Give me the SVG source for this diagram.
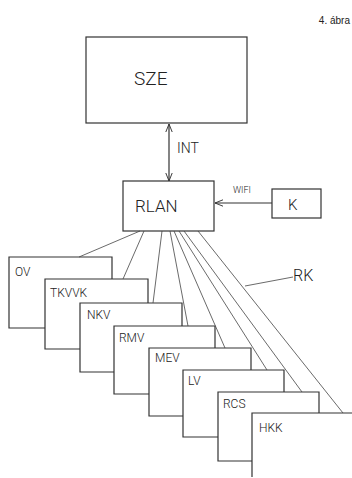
<svg xmlns="http://www.w3.org/2000/svg" width="352" height="478" viewBox="0 0 352 478">
<style>
.b{fill:none;stroke:#333;stroke-width:1.2}
.c{fill:none;stroke:#444;stroke-width:0.8}
.t{font-family:Roboto,"DejaVu Sans",sans-serif;font-weight:300;fill:#222}
</style>
<defs>
<marker id="ah" viewBox="0 0 10 10" refX="10" refY="5" markerWidth="8" markerHeight="8" orient="auto-start-reverse" markerUnits="userSpaceOnUse">
<polyline points="0,1 10,5 0,9" fill="none" stroke="#333" stroke-width="1.2"/>
</marker>
</defs>
<rect width="352" height="478" fill="#fff"/>
<text x="350" y="24" font-size="10" text-anchor="end" font-family="Liberation Sans,Arial,sans-serif" fill="#222">4. ábra</text>
<g id="SZE"><rect class="b" x="86" y="37" width="161" height="86"/><text class="t" x="134" y="85" font-size="19">SZE</text></g>
<g id="RLAN"><rect class="b" x="123" y="181" width="91" height="50"/><text class="t" x="135" y="212" font-size="17">RLAN</text></g>
<g id="K"><rect class="b" x="272" y="189" width="49" height="29"/><text class="t" x="288" y="210" font-size="15">K</text></g>
<g id="OV"><path class="b" d="M45 328H9V257H112V279"/><text class="t" x="15" y="276" font-size="12">OV</text></g>
<g id="TKVVK"><path class="b" d="M80 349H45V279H148V303"/><text class="t" x="50" y="297" font-size="12">TKVVK</text></g>
<g id="NKV"><path class="b" d="M114 372H80V303H182V326"/><text class="t" x="87" y="319" font-size="12">NKV</text></g>
<g id="RMV"><path class="b" d="M149 394H114V326H215V348"/><text class="t" x="119" y="342" font-size="12">RMV</text></g>
<g id="MEV"><path class="b" d="M183 416H149V348H251V370"/><text class="t" x="155" y="362" font-size="12">MEV</text></g>
<g id="LV"><path class="b" d="M218 437H183V370H284V392"/><text class="t" x="188" y="385" font-size="12">LV</text></g>
<g id="RCS"><path class="b" d="M252 461H218V392H319V413"/><text class="t" x="223" y="408" font-size="12">RCS</text></g>
<g id="HKK"><path class="b" d="M252 477V413H352"/><text class="t" x="259" y="432" font-size="12">HKK</text></g>
<g id="connectors">
<line class="b" x1="169" y1="124" x2="169" y2="181" marker-start="url(#ah)" marker-end="url(#ah)"/>
<text class="t" x="177" y="153" font-size="14">INT</text>
<line class="b" x1="272" y1="203" x2="215" y2="203" marker-end="url(#ah)"/>
<text class="t" x="233" y="193" font-size="9">WIFI</text>
<line class="c" x1="140" y1="231" x2="79" y2="257"/>
<line class="c" x1="144" y1="231" x2="123" y2="279"/>
<line class="c" x1="162" y1="231" x2="153" y2="303"/>
<line class="c" x1="170" y1="231" x2="188" y2="326"/>
<line class="c" x1="174" y1="231" x2="225" y2="348"/>
<line class="c" x1="179" y1="231" x2="267" y2="370"/>
<line class="c" x1="184" y1="231" x2="302" y2="392"/>
<line class="c" x1="198" y1="231" x2="343" y2="413"/>
<line class="c" x1="245" y1="286" x2="293" y2="277"/>
<text class="t" x="293" y="281" font-size="16">RK</text>
</g>
</svg>
